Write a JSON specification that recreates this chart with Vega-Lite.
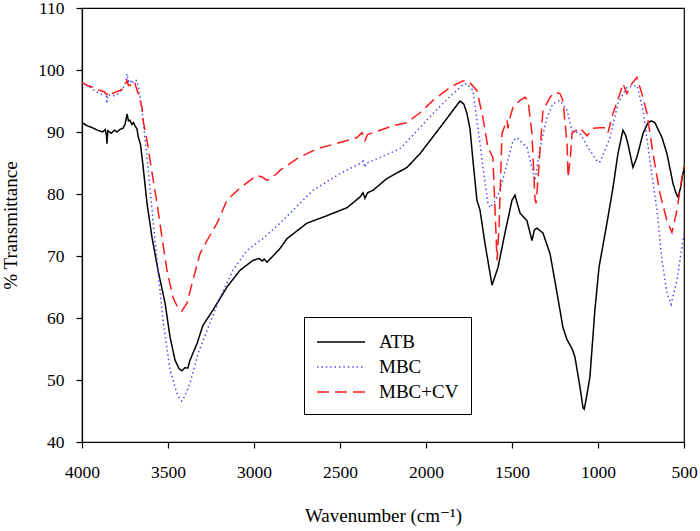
{
  "$schema": "https://vega.github.io/schema/vega-lite/v6.json",
  "width": 602,
  "height": 434,
  "autosize": {"type": "none"},
  "padding": {"left": 82, "top": 8, "right": 16, "bottom": 89},
  "config": {
    "font": "'Liberation Serif', 'Times New Roman', 'DejaVu Serif', serif",
    "background": "white",
    "view": {"stroke": "black", "strokeWidth": 1.2},
    "axis": {
      "grid": false,
      "domainColor": "black",
      "domainWidth": 1.2,
      "tickColor": "black",
      "tickWidth": 1.2,
      "tickSize": 6,
      "labelFont": "'Liberation Serif', 'Times New Roman', 'DejaVu Serif', serif",
      "titleFont": "'Liberation Serif', 'Times New Roman', 'DejaVu Serif', serif",
      "labelFontSize": 17.5,
      "labelColor": "black",
      "labelFlush": false,
      "labelOverlap": false,
      "titleFontSize": 19,
      "titleFontWeight": "normal",
      "titleColor": "black"
    },
    "legend": {
      "orient": "none",
      "legendX": 222,
      "legendY": 309,
      "strokeColor": "black",
      "fillColor": "white",
      "padding": 12,
      "symbolOffset": 12,
      "symbolType": "M-2,0H2",
      "symbolSize": 576,
      "symbolStrokeWidth": 1.5,
      "labelFont": "'Liberation Serif', 'Times New Roman', 'DejaVu Serif', serif",
      "labelFontSize": 19,
      "labelColor": "black",
      "labelOffset": 25,
      "rowPadding": 2
    }
  },
  "data": {
    "values": [
      {"s": "ATB", "w": 4000, "t": 91.5}, {"s": "ATB", "w": 3970, "t": 91.0}, {"s": "ATB", "w": 3940, "t": 90.7}, {"s": "ATB", "w": 3910, "t": 90.3}, {"s": "ATB", "w": 3880, "t": 90.0}, {"s": "ATB", "w": 3865, "t": 90.4}, {"s": "ATB", "w": 3858, "t": 89.5}, {"s": "ATB", "w": 3855, "t": 88.1}, {"s": "ATB", "w": 3850, "t": 90.2}, {"s": "ATB", "w": 3830, "t": 89.8}, {"s": "ATB", "w": 3810, "t": 90.3}, {"s": "ATB", "w": 3797, "t": 90.0}, {"s": "ATB", "w": 3780, "t": 90.4}, {"s": "ATB", "w": 3762, "t": 90.6}, {"s": "ATB", "w": 3750, "t": 91.2}, {"s": "ATB", "w": 3738, "t": 92.9}, {"s": "ATB", "w": 3730, "t": 91.8}, {"s": "ATB", "w": 3721, "t": 91.9}, {"s": "ATB", "w": 3710, "t": 91.2}, {"s": "ATB", "w": 3700, "t": 91.5}, {"s": "ATB", "w": 3692, "t": 91.0}, {"s": "ATB", "w": 3680, "t": 90.5}, {"s": "ATB", "w": 3674, "t": 89.3}, {"s": "ATB", "w": 3660, "t": 88.0}, {"s": "ATB", "w": 3645, "t": 84.5}, {"s": "ATB", "w": 3622, "t": 78.5}, {"s": "ATB", "w": 3593, "t": 73.0}, {"s": "ATB", "w": 3558, "t": 67.7}, {"s": "ATB", "w": 3517, "t": 62.4}, {"s": "ATB", "w": 3488, "t": 56.9}, {"s": "ATB", "w": 3459, "t": 53.2}, {"s": "ATB", "w": 3435, "t": 51.8}, {"s": "ATB", "w": 3419, "t": 51.5}, {"s": "ATB", "w": 3400, "t": 52.0}, {"s": "ATB", "w": 3385, "t": 51.9}, {"s": "ATB", "w": 3372, "t": 53.2}, {"s": "ATB", "w": 3331, "t": 55.9}, {"s": "ATB", "w": 3297, "t": 58.8}, {"s": "ATB", "w": 3238, "t": 61.3}, {"s": "ATB", "w": 3157, "t": 65.0}, {"s": "ATB", "w": 3081, "t": 67.7}, {"s": "ATB", "w": 3006, "t": 69.3}, {"s": "ATB", "w": 2970, "t": 69.6}, {"s": "ATB", "w": 2953, "t": 69.2}, {"s": "ATB", "w": 2940, "t": 69.5}, {"s": "ATB", "w": 2924, "t": 69.0}, {"s": "ATB", "w": 2849, "t": 71.2}, {"s": "ATB", "w": 2808, "t": 72.8}, {"s": "ATB", "w": 2692, "t": 75.3}, {"s": "ATB", "w": 2576, "t": 76.5}, {"s": "ATB", "w": 2459, "t": 77.8}, {"s": "ATB", "w": 2384, "t": 79.5}, {"s": "ATB", "w": 2366, "t": 80.2}, {"s": "ATB", "w": 2355, "t": 79.3}, {"s": "ATB", "w": 2340, "t": 80.2}, {"s": "ATB", "w": 2308, "t": 80.6}, {"s": "ATB", "w": 2227, "t": 82.5}, {"s": "ATB", "w": 2110, "t": 84.3}, {"s": "ATB", "w": 2035, "t": 86.5}, {"s": "ATB", "w": 1919, "t": 90.7}, {"s": "ATB", "w": 1843, "t": 93.5}, {"s": "ATB", "w": 1802, "t": 95.0}, {"s": "ATB", "w": 1780, "t": 94.5}, {"s": "ATB", "w": 1762, "t": 93.0}, {"s": "ATB", "w": 1744, "t": 90.5}, {"s": "ATB", "w": 1727, "t": 85.4}, {"s": "ATB", "w": 1704, "t": 79.0}, {"s": "ATB", "w": 1686, "t": 77.4}, {"s": "ATB", "w": 1657, "t": 72.0}, {"s": "ATB", "w": 1616, "t": 65.3}, {"s": "ATB", "w": 1581, "t": 68.2}, {"s": "ATB", "w": 1541, "t": 73.7}, {"s": "ATB", "w": 1500, "t": 79.0}, {"s": "ATB", "w": 1483, "t": 79.8}, {"s": "ATB", "w": 1453, "t": 76.9}, {"s": "ATB", "w": 1413, "t": 75.7}, {"s": "ATB", "w": 1384, "t": 72.5}, {"s": "ATB", "w": 1370, "t": 74.2}, {"s": "ATB", "w": 1355, "t": 74.5}, {"s": "ATB", "w": 1320, "t": 73.7}, {"s": "ATB", "w": 1279, "t": 70.4}, {"s": "ATB", "w": 1238, "t": 64.0}, {"s": "ATB", "w": 1204, "t": 58.5}, {"s": "ATB", "w": 1180, "t": 56.5}, {"s": "ATB", "w": 1150, "t": 55.0}, {"s": "ATB", "w": 1134, "t": 53.7}, {"s": "ATB", "w": 1105, "t": 48.9}, {"s": "ATB", "w": 1087, "t": 45.5}, {"s": "ATB", "w": 1080, "t": 45.3}, {"s": "ATB", "w": 1065, "t": 47.5}, {"s": "ATB", "w": 1047, "t": 50.5}, {"s": "ATB", "w": 1018, "t": 61.3}, {"s": "ATB", "w": 994, "t": 68.2}, {"s": "ATB", "w": 948, "t": 75.3}, {"s": "ATB", "w": 913, "t": 81.0}, {"s": "ATB", "w": 884, "t": 86.5}, {"s": "ATB", "w": 855, "t": 90.3}, {"s": "ATB", "w": 840, "t": 89.5}, {"s": "ATB", "w": 826, "t": 88.1}, {"s": "ATB", "w": 797, "t": 84.3}, {"s": "ATB", "w": 774, "t": 85.9}, {"s": "ATB", "w": 738, "t": 89.8}, {"s": "ATB", "w": 709, "t": 91.5}, {"s": "ATB", "w": 690, "t": 91.8}, {"s": "ATB", "w": 669, "t": 91.5}, {"s": "ATB", "w": 628, "t": 89.1}, {"s": "ATB", "w": 599, "t": 86.5}, {"s": "ATB", "w": 564, "t": 81.7}, {"s": "ATB", "w": 545, "t": 80.0}, {"s": "ATB", "w": 535, "t": 79.5}, {"s": "ATB", "w": 520, "t": 81.0}, {"s": "ATB", "w": 506, "t": 83.3}, {"s": "ATB", "w": 500, "t": 84.0},

      {"s": "MBC", "w": 4000, "t": 98.0}, {"s": "MBC", "w": 3970, "t": 97.5}, {"s": "MBC", "w": 3940, "t": 96.9}, {"s": "MBC", "w": 3910, "t": 96.4}, {"s": "MBC", "w": 3880, "t": 96.0}, {"s": "MBC", "w": 3860, "t": 96.3}, {"s": "MBC", "w": 3855, "t": 94.6}, {"s": "MBC", "w": 3850, "t": 96.0}, {"s": "MBC", "w": 3820, "t": 95.8}, {"s": "MBC", "w": 3797, "t": 96.0}, {"s": "MBC", "w": 3779, "t": 96.5}, {"s": "MBC", "w": 3760, "t": 97.2}, {"s": "MBC", "w": 3745, "t": 98.0}, {"s": "MBC", "w": 3738, "t": 99.4}, {"s": "MBC", "w": 3730, "t": 98.2}, {"s": "MBC", "w": 3721, "t": 98.5}, {"s": "MBC", "w": 3710, "t": 97.8}, {"s": "MBC", "w": 3700, "t": 98.3}, {"s": "MBC", "w": 3680, "t": 98.3}, {"s": "MBC", "w": 3670, "t": 97.0}, {"s": "MBC", "w": 3651, "t": 93.5}, {"s": "MBC", "w": 3622, "t": 85.9}, {"s": "MBC", "w": 3587, "t": 75.7}, {"s": "MBC", "w": 3558, "t": 67.7}, {"s": "MBC", "w": 3529, "t": 59.6}, {"s": "MBC", "w": 3488, "t": 51.6}, {"s": "MBC", "w": 3450, "t": 48.0}, {"s": "MBC", "w": 3430, "t": 46.8}, {"s": "MBC", "w": 3420, "t": 46.6}, {"s": "MBC", "w": 3400, "t": 47.5}, {"s": "MBC", "w": 3372, "t": 49.5}, {"s": "MBC", "w": 3325, "t": 54.3}, {"s": "MBC", "w": 3273, "t": 58.0}, {"s": "MBC", "w": 3198, "t": 63.3}, {"s": "MBC", "w": 3122, "t": 67.7}, {"s": "MBC", "w": 3041, "t": 70.9}, {"s": "MBC", "w": 2965, "t": 72.5}, {"s": "MBC", "w": 2948, "t": 72.8}, {"s": "MBC", "w": 2849, "t": 75.3}, {"s": "MBC", "w": 2791, "t": 76.9}, {"s": "MBC", "w": 2657, "t": 80.6}, {"s": "MBC", "w": 2500, "t": 83.3}, {"s": "MBC", "w": 2384, "t": 84.9}, {"s": "MBC", "w": 2365, "t": 85.3}, {"s": "MBC", "w": 2355, "t": 84.3}, {"s": "MBC", "w": 2345, "t": 85.0}, {"s": "MBC", "w": 2308, "t": 85.4}, {"s": "MBC", "w": 2151, "t": 87.3}, {"s": "MBC", "w": 2052, "t": 90.2}, {"s": "MBC", "w": 1959, "t": 93.0}, {"s": "MBC", "w": 1843, "t": 96.2}, {"s": "MBC", "w": 1780, "t": 97.7}, {"s": "MBC", "w": 1762, "t": 97.8}, {"s": "MBC", "w": 1727, "t": 96.7}, {"s": "MBC", "w": 1698, "t": 90.7}, {"s": "MBC", "w": 1669, "t": 84.3}, {"s": "MBC", "w": 1640, "t": 78.5}, {"s": "MBC", "w": 1628, "t": 77.8}, {"s": "MBC", "w": 1600, "t": 78.8}, {"s": "MBC", "w": 1570, "t": 80.6}, {"s": "MBC", "w": 1494, "t": 88.6}, {"s": "MBC", "w": 1471, "t": 89.1}, {"s": "MBC", "w": 1440, "t": 88.2}, {"s": "MBC", "w": 1413, "t": 87.5}, {"s": "MBC", "w": 1384, "t": 84.3}, {"s": "MBC", "w": 1366, "t": 82.2}, {"s": "MBC", "w": 1337, "t": 87.5}, {"s": "MBC", "w": 1297, "t": 92.3}, {"s": "MBC", "w": 1262, "t": 94.6}, {"s": "MBC", "w": 1221, "t": 95.1}, {"s": "MBC", "w": 1180, "t": 93.5}, {"s": "MBC", "w": 1151, "t": 90.2}, {"s": "MBC", "w": 1105, "t": 89.8}, {"s": "MBC", "w": 1058, "t": 87.5}, {"s": "MBC", "w": 1000, "t": 85.1}, {"s": "MBC", "w": 988, "t": 85.2}, {"s": "MBC", "w": 930, "t": 89.1}, {"s": "MBC", "w": 884, "t": 94.6}, {"s": "MBC", "w": 832, "t": 97.2}, {"s": "MBC", "w": 800, "t": 97.4}, {"s": "MBC", "w": 773, "t": 97.5}, {"s": "MBC", "w": 738, "t": 93.5}, {"s": "MBC", "w": 698, "t": 85.4}, {"s": "MBC", "w": 657, "t": 77.4}, {"s": "MBC", "w": 628, "t": 69.3}, {"s": "MBC", "w": 599, "t": 64.0}, {"s": "MBC", "w": 575, "t": 62.2}, {"s": "MBC", "w": 541, "t": 66.1}, {"s": "MBC", "w": 512, "t": 71.4}, {"s": "MBC", "w": 500, "t": 73.5},

      {"s": "MBC+CV", "w": 4000, "t": 98.0}, {"s": "MBC+CV", "w": 3970, "t": 97.5}, {"s": "MBC+CV", "w": 3936, "t": 97.2}, {"s": "MBC+CV", "w": 3915, "t": 96.8}, {"s": "MBC+CV", "w": 3895, "t": 96.7}, {"s": "MBC+CV", "w": 3870, "t": 96.5}, {"s": "MBC+CV", "w": 3855, "t": 96.0}, {"s": "MBC+CV", "w": 3840, "t": 96.6}, {"s": "MBC+CV", "w": 3820, "t": 96.2}, {"s": "MBC+CV", "w": 3800, "t": 96.5}, {"s": "MBC+CV", "w": 3779, "t": 96.7}, {"s": "MBC+CV", "w": 3760, "t": 97.0}, {"s": "MBC+CV", "w": 3738, "t": 98.3}, {"s": "MBC+CV", "w": 3730, "t": 97.5}, {"s": "MBC+CV", "w": 3721, "t": 97.6}, {"s": "MBC+CV", "w": 3710, "t": 97.2}, {"s": "MBC+CV", "w": 3692, "t": 97.8}, {"s": "MBC+CV", "w": 3674, "t": 96.2}, {"s": "MBC+CV", "w": 3651, "t": 94.0}, {"s": "MBC+CV", "w": 3645, "t": 91.9}, {"s": "MBC+CV", "w": 3622, "t": 88.6}, {"s": "MBC+CV", "w": 3593, "t": 83.5}, {"s": "MBC+CV", "w": 3564, "t": 78.5}, {"s": "MBC+CV", "w": 3535, "t": 73.0}, {"s": "MBC+CV", "w": 3506, "t": 67.7}, {"s": "MBC+CV", "w": 3471, "t": 63.3}, {"s": "MBC+CV", "w": 3440, "t": 61.5}, {"s": "MBC+CV", "w": 3420, "t": 61.1}, {"s": "MBC+CV", "w": 3390, "t": 62.4}, {"s": "MBC+CV", "w": 3355, "t": 66.1}, {"s": "MBC+CV", "w": 3314, "t": 70.4}, {"s": "MBC+CV", "w": 3273, "t": 72.5}, {"s": "MBC+CV", "w": 3215, "t": 75.3}, {"s": "MBC+CV", "w": 3157, "t": 79.0}, {"s": "MBC+CV", "w": 3081, "t": 81.0}, {"s": "MBC+CV", "w": 2983, "t": 83.0}, {"s": "MBC+CV", "w": 2950, "t": 82.7}, {"s": "MBC+CV", "w": 2924, "t": 82.2}, {"s": "MBC+CV", "w": 2866, "t": 83.3}, {"s": "MBC+CV", "w": 2849, "t": 83.8}, {"s": "MBC+CV", "w": 2750, "t": 85.7}, {"s": "MBC+CV", "w": 2634, "t": 87.3}, {"s": "MBC+CV", "w": 2500, "t": 88.3}, {"s": "MBC+CV", "w": 2401, "t": 89.1}, {"s": "MBC+CV", "w": 2372, "t": 89.9}, {"s": "MBC+CV", "w": 2355, "t": 88.6}, {"s": "MBC+CV", "w": 2340, "t": 89.6}, {"s": "MBC+CV", "w": 2308, "t": 89.9}, {"s": "MBC+CV", "w": 2192, "t": 91.0}, {"s": "MBC+CV", "w": 2110, "t": 91.5}, {"s": "MBC+CV", "w": 2035, "t": 93.1}, {"s": "MBC+CV", "w": 1959, "t": 95.1}, {"s": "MBC+CV", "w": 1860, "t": 97.2}, {"s": "MBC+CV", "w": 1790, "t": 98.2}, {"s": "MBC+CV", "w": 1762, "t": 98.3}, {"s": "MBC+CV", "w": 1740, "t": 97.8}, {"s": "MBC+CV", "w": 1704, "t": 96.7}, {"s": "MBC+CV", "w": 1669, "t": 92.3}, {"s": "MBC+CV", "w": 1640, "t": 87.5}, {"s": "MBC+CV", "w": 1611, "t": 85.9}, {"s": "MBC+CV", "w": 1598, "t": 77.0}, {"s": "MBC+CV", "w": 1587, "t": 69.3}, {"s": "MBC+CV", "w": 1575, "t": 75.0}, {"s": "MBC+CV", "w": 1558, "t": 89.8}, {"s": "MBC+CV", "w": 1529, "t": 91.9}, {"s": "MBC+CV", "w": 1523, "t": 90.6}, {"s": "MBC+CV", "w": 1510, "t": 92.5}, {"s": "MBC+CV", "w": 1494, "t": 94.0}, {"s": "MBC+CV", "w": 1453, "t": 95.1}, {"s": "MBC+CV", "w": 1424, "t": 95.6}, {"s": "MBC+CV", "w": 1407, "t": 95.1}, {"s": "MBC+CV", "w": 1384, "t": 89.8}, {"s": "MBC+CV", "w": 1366, "t": 79.0}, {"s": "MBC+CV", "w": 1360, "t": 78.5}, {"s": "MBC+CV", "w": 1350, "t": 82.0}, {"s": "MBC+CV", "w": 1337, "t": 87.0}, {"s": "MBC+CV", "w": 1320, "t": 93.5}, {"s": "MBC+CV", "w": 1279, "t": 95.6}, {"s": "MBC+CV", "w": 1250, "t": 96.4}, {"s": "MBC+CV", "w": 1221, "t": 96.2}, {"s": "MBC+CV", "w": 1204, "t": 95.1}, {"s": "MBC+CV", "w": 1180, "t": 88.1}, {"s": "MBC+CV", "w": 1174, "t": 82.7}, {"s": "MBC+CV", "w": 1160, "t": 86.0}, {"s": "MBC+CV", "w": 1151, "t": 89.8}, {"s": "MBC+CV", "w": 1105, "t": 90.7}, {"s": "MBC+CV", "w": 1064, "t": 89.4}, {"s": "MBC+CV", "w": 1029, "t": 90.6}, {"s": "MBC+CV", "w": 988, "t": 90.7}, {"s": "MBC+CV", "w": 948, "t": 90.7}, {"s": "MBC+CV", "w": 942, "t": 89.9}, {"s": "MBC+CV", "w": 913, "t": 93.0}, {"s": "MBC+CV", "w": 872, "t": 96.2}, {"s": "MBC+CV", "w": 855, "t": 97.8}, {"s": "MBC+CV", "w": 832, "t": 96.2}, {"s": "MBC+CV", "w": 803, "t": 97.8}, {"s": "MBC+CV", "w": 774, "t": 98.8}, {"s": "MBC+CV", "w": 745, "t": 96.2}, {"s": "MBC+CV", "w": 715, "t": 93.0}, {"s": "MBC+CV", "w": 680, "t": 86.5}, {"s": "MBC+CV", "w": 640, "t": 80.1}, {"s": "MBC+CV", "w": 599, "t": 75.7}, {"s": "MBC+CV", "w": 570, "t": 73.8}, {"s": "MBC+CV", "w": 541, "t": 77.4}, {"s": "MBC+CV", "w": 506, "t": 83.8}, {"s": "MBC+CV", "w": 500, "t": 84.5}
    ]
  },
  "mark": {"type": "line", "strokeWidth": 1.5},
  "encoding": {
    "x": {
      "field": "w",
      "type": "quantitative",
      "scale": {"domain": [500, 4000], "reverse": true, "nice": false},
      "axis": {
        "values": [4000, 3500, 3000, 2500, 2000, 1500, 1000, 500],
        "format": "d",
        "labelPadding": 15,
        "title": "Wavenumber (cm⁻¹)",
        "titlePadding": 26
      }
    },
    "y": {
      "field": "t",
      "type": "quantitative",
      "scale": {"domain": [40, 110], "nice": false},
      "axis": {
        "values": [40, 50, 60, 70, 80, 90, 100, 110],
        "labelPadding": 12,
        "title": "% Transmittance",
        "titlePadding": 17
      }
    },
    "color": {
      "field": "s",
      "type": "nominal",
      "scale": {"domain": ["ATB", "MBC", "MBC+CV"], "range": ["#000000", "#4444ff", "#ff1a1a"]},
      "legend": {"title": null}
    },
    "strokeDash": {
      "field": "s",
      "type": "nominal",
      "scale": {"domain": ["ATB", "MBC", "MBC+CV"], "range": [[1, 0], [1.4, 3], [12, 6]]},
      "legend": {"title": null}
    }
  }
}
